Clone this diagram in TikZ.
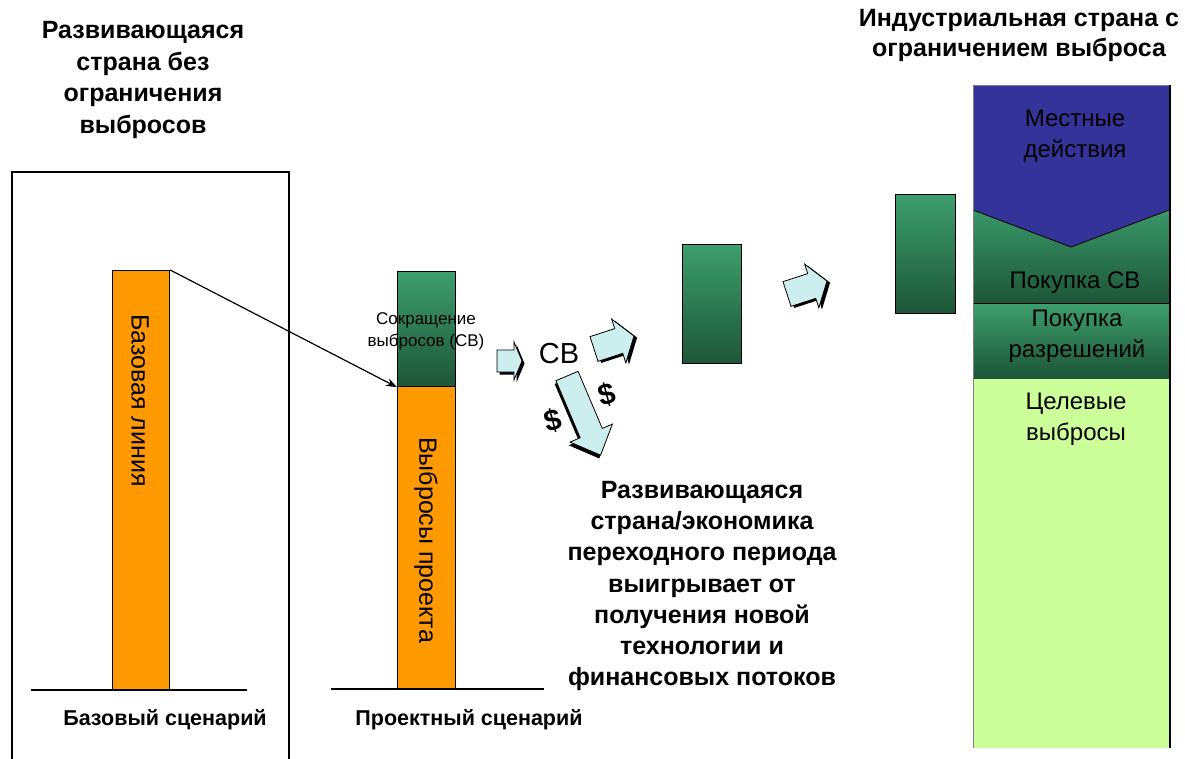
\documentclass[tikz,border=0pt]{standalone}
\usepackage{fontspec}
\setmainfont{Liberation Sans}
\usetikzlibrary{arrows.meta}
\definecolor{barorange}{HTML}{FF9900}
\definecolor{gtop}{HTML}{3D9E6E}
\definecolor{gbot}{HTML}{1D5538}
\definecolor{vblue}{HTML}{333399}
\definecolor{lgreen}{HTML}{CCFF99}
\definecolor{acyan}{HTML}{CCEEEE}
\begin{document}
\begin{tikzpicture}[x=1pt,y=-1pt,
  titletext/.style={font=\bfseries\fontsize{25}{31.5}\selectfont, align=center, inner sep=0pt},
  captext/.style={font=\bfseries\fontsize{21.5}{24}\selectfont, inner sep=0pt},
  coltext/.style={font=\fontsize{24}{31}\selectfont, align=center, inner sep=0pt},
  bartext/.style={font=\fontsize{25}{28}\selectfont, inner sep=0pt, rotate=-90, anchor=west},
  orangebar/.style={draw=black, line width=1.2pt, fill=barorange, inner sep=0pt, anchor=north west},
  greenbox/.style={draw=black, line width=1.2pt, top color=gtop, bottom color=gbot, inner sep=0pt, anchor=north west},
  blockarrow/.style={draw=black, line width=0.8pt, fill=acyan, line join=miter},
  arrowshadow/.style={fill=black},
  dollar/.style={font=\bfseries\fontsize{30}{30}\selectfont, inner sep=0pt},
  baseline/.style={line width=1.6pt, black},
  pics/blkarrow/.style n args={4}{code={
    % #1 length, #2 body half-width, #3 head half-width, #4 head length
    \fill[arrowshadow, shift={(2.5,2.5)}] (0,-#2) -- ({#1-#4},-#2) -- ({#1-#4},-#3) -- (#1,0) -- ({#1-#4},#3) -- ({#1-#4},#2) -- (0,#2) -- cycle;
    \draw[blockarrow] (0,-#2) -- ({#1-#4},-#2) -- ({#1-#4},-#3) -- (#1,0) -- ({#1-#4},#3) -- ({#1-#4},#2) -- (0,#2) -- cycle;
  }}
]
\useasboundingbox (0,0) rectangle (1185,758);
\fill[white] (0,0) rectangle (1185,758);

% left frame
\draw[line width=1.6pt] (12,775) -- (12,172) -- (289,172) -- (289,775);

% titles
\node[titletext] (tleft) at (143,80) {Развивающаяся\\страна без\\ограничения\\выбросов};
\node[titletext, font=\bfseries\fontsize{25}{30}\selectfont] (tright) at (1019,35) {Индустриальная страна с\\ограничением выброса};

% baseline scenario
\node[orangebar, minimum width=57pt, minimum height=420pt] (bar1) at (112,270) {};
\node[bartext] (t1) at (140,314) {Базовая линия};
\draw[baseline] (31,690) -- (247,690);
\node[captext] (cap1) at (165,720) {Базовый сценарий};

% project scenario
\node[orangebar, minimum width=58pt, minimum height=303pt] (bar2) at (397,386) {};
\node[greenbox, minimum width=58pt, minimum height=115pt] (bar2g) at (397,271) {};
\node[bartext] (t2) at (426,437) {Выбросы проекта};
\node[font=\fontsize{17}{22}\selectfont, align=center, inner sep=0pt] (cv) at (426,331) {Сокращение\\выбросов (СВ)};
\draw[baseline] (331,689) -- (544,689);
\node[captext] (cap2) at (469,720) {Проектный сценарий};

\draw[line width=1.2pt, -{Stealth[length=11pt,width=8pt]}] (bar1.north east) -- (bar2g.south west);

% transfer arrows
\pic[shift={(497,361)}] {blkarrow={25}{11}{19}{8}};
\node[font=\fontsize{29}{29}\selectfont, inner sep=0pt] (cvlabel) at (559,354) {СВ};
\pic[shift={(594,349)}, rotate=18] {blkarrow={42}{13}{23}{16}};
\pic[shift={(787,294)}, rotate=18] {blkarrow={42}{13}{23}{16}};
\pic[shift={(567,376)}, rotate=-67] {blkarrow={86}{12}{23}{24}};
\node[dollar, rotate=15] (d1) at (553,421) {\$};
\node[dollar, rotate=15] (d2) at (607,395) {\$};

\node[greenbox, minimum width=59pt, minimum height=119pt] (g2) at (682,244) {};
\node[greenbox, minimum width=60pt, minimum height=119pt] (g3) at (895,194) {};

% industrial column
\fill[lgreen] (973,378) rectangle (1169,748);
\shade[top color=gtop, bottom color=gbot] (973,303) rectangle (1169,378);
\shade[top color=gtop, bottom color=gbot] (973,200) rectangle (1169,303);
\fill[vblue] (973,85) -- (1169,85) -- (1169,210) -- (1071,247) -- (973,210) -- cycle;
\draw[line width=0.8pt] (973,210) -- (1071,247) -- (1169,210);
\draw[line width=1pt] (973,303) -- (1169,303);
\draw[line width=0.8pt, gray] (973,748) -- (973,85) -- (1169,85);
\draw[line width=2pt] (1170,85) -- (1170,748);

\node[coltext] (c1) at (1075,136) {Местные\\действия};
\node[coltext] (c2) at (1075,283) {Покупка СВ};
\node[coltext] (c3) at (1077,336) {Покупка\\разрешений};
\node[coltext] (c4) at (1076,419) {Целевые\\выбросы};

% bottom center text
\node[titletext, font=\bfseries\fontsize{25}{31.3}\selectfont] (tdev) at (702,586) {Развивающаяся\\страна/экономика\\переходного периода\\выигрывает от\\получения новой\\технологии и\\финансовых потоков};
\end{tikzpicture}
\end{document}
